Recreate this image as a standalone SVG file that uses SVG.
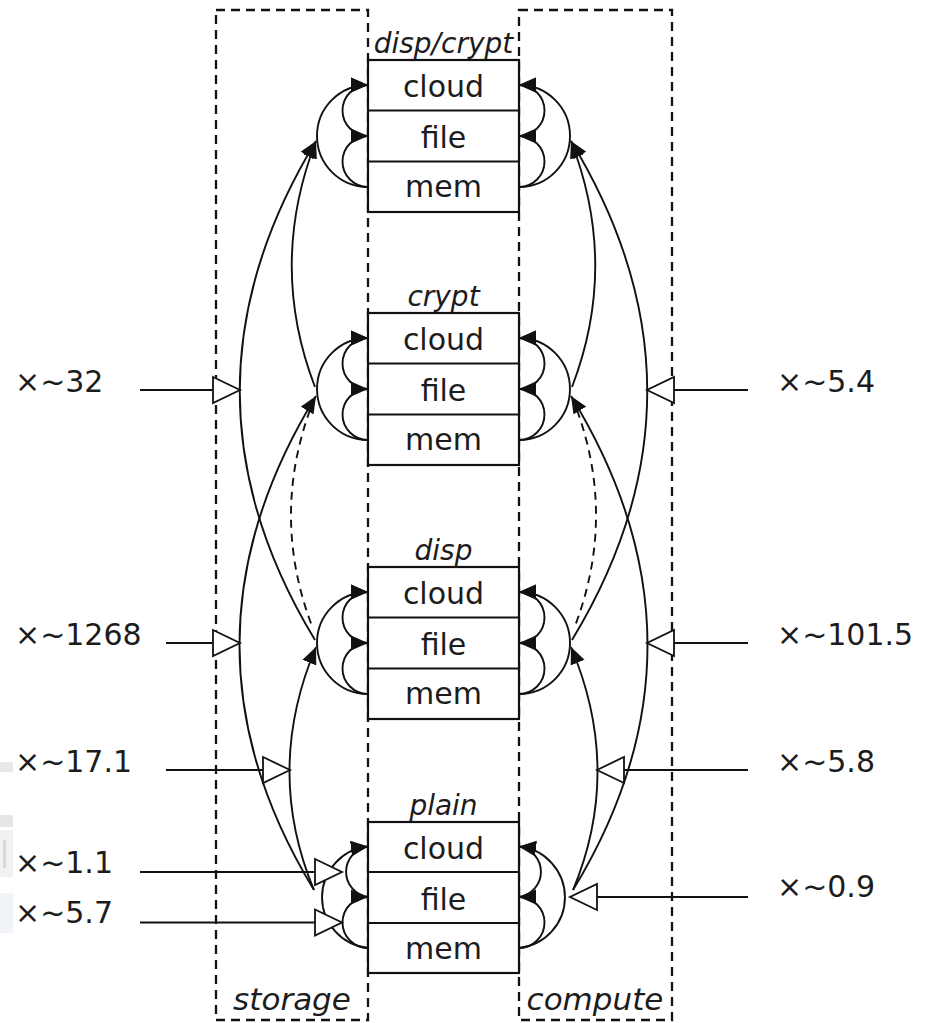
<svg xmlns="http://www.w3.org/2000/svg" width="935" height="1023" viewBox="0 0 935 1023">
  <style>
    .region { fill: none; stroke: #111; stroke-width: 2.3; stroke-dasharray: 9 6; }
    .box { fill: #fff; stroke: #111; stroke-width: 2.2; }
    .row { stroke: #111; stroke-width: 2.2; }
    .cell { font-family: "DejaVu Sans", sans-serif; font-size: 30px; fill: #1c1c1c; text-anchor: middle; }
    .tag { font-family: "DejaVu Sans", sans-serif; font-size: 28px; font-style: italic; fill: #1c1c1c; text-anchor: middle; }
    .side { font-family: "DejaVu Sans", sans-serif; font-size: 31px; font-style: italic; fill: #1c1c1c; text-anchor: middle; }
    .gain { font-family: "DejaVu Sans", sans-serif; font-size: 30px; fill: #1c1c1c; }
    .loop { fill: none; stroke: #111; stroke-width: 1.9; marker-end: url(#hd); }
    .move { fill: none; stroke: #111; stroke-width: 1.9; marker-end: url(#hd); }
    .dash { fill: none; stroke: #111; stroke-width: 1.9; stroke-dasharray: 8 6; }
    .ptr { fill: none; stroke: #111; stroke-width: 2; marker-end: url(#open); }
  </style>
  <defs>
    <marker id="hd" markerUnits="userSpaceOnUse" viewBox="0 0 18 16" markerWidth="18" markerHeight="16" refX="17" refY="8" orient="auto">
      <path d="M0,0.5 L17,8 L0,15.5 Z" fill="#111"/>
    </marker>
    <marker id="open" markerUnits="userSpaceOnUse" viewBox="0 0 32 30" markerWidth="32" markerHeight="30" refX="28" refY="14" orient="auto" overflow="visible">
      <path d="M1,1 L28,14 L1,27 Z" fill="#fff" stroke="#111" stroke-width="1.8"/>
    </marker>
  </defs>

  <rect width="935" height="1023" fill="#fff"/>

  <!-- window chrome left at the margin -->
  <g id="margin">
    <rect x="0" y="762" width="13" height="10" fill="#e8e8e8"/>
    <rect x="0" y="815" width="13" height="12" fill="#e6e6e6"/>
    <rect x="0" y="830" width="13" height="47" fill="#f1f1f1"/>
    <rect x="3" y="840" width="3" height="28" fill="#d8d8d8"/>
    <rect x="0" y="893" width="13" height="40" fill="#f0f4f9"/>
  </g>

  <!-- dashed regions -->
  <g id="region-storage">
    <rect class="region" x="216" y="10" width="152" height="1010"/>
    <text class="side" x="292" y="1010">storage</text>
  </g>
  <g id="region-compute">
    <rect class="region" x="519" y="10" width="153" height="1010"/>
    <text class="side" x="595" y="1010">compute</text>
  </g>

  <!-- state blocks -->
  <g id="node-dispcrypt">
    <rect class="box" x="368" y="60" width="151" height="152"/>
    <line class="row" x1="368" y1="110.5" x2="519" y2="110.5"/>
    <line class="row" x1="368" y1="161.5" x2="519" y2="161.5"/>
    <text class="tag" x="443.5" y="53">disp/crypt</text>
    <text class="cell" x="443.5" y="97">cloud</text>
    <text class="cell" x="443.5" y="148">file</text>
    <text class="cell" x="443.5" y="197">mem</text>
  </g>
  <g id="node-crypt">
    <rect class="box" x="368" y="313" width="151" height="152"/>
    <line class="row" x1="368" y1="363.5" x2="519" y2="363.5"/>
    <line class="row" x1="368" y1="414.5" x2="519" y2="414.5"/>
    <text class="tag" x="443.5" y="306">crypt</text>
    <text class="cell" x="443.5" y="350">cloud</text>
    <text class="cell" x="443.5" y="401">file</text>
    <text class="cell" x="443.5" y="450">mem</text>
  </g>
  <g id="node-disp">
    <rect class="box" x="368" y="567" width="151" height="152"/>
    <line class="row" x1="368" y1="617.5" x2="519" y2="617.5"/>
    <line class="row" x1="368" y1="668.5" x2="519" y2="668.5"/>
    <text class="tag" x="443.5" y="560">disp</text>
    <text class="cell" x="443.5" y="604">cloud</text>
    <text class="cell" x="443.5" y="655">file</text>
    <text class="cell" x="443.5" y="704">mem</text>
  </g>
  <g id="node-plain">
    <rect class="box" x="368" y="822" width="151" height="151"/>
    <line class="row" x1="368" y1="872" x2="519" y2="872"/>
    <line class="row" x1="368" y1="923" x2="519" y2="923"/>
    <text class="tag" x="443.5" y="815">plain</text>
    <text class="cell" x="443.5" y="859">cloud</text>
    <text class="cell" x="443.5" y="910">file</text>
    <text class="cell" x="443.5" y="959">mem</text>
  </g>

  <g id="connectors">
    <!-- tier moves inside each block, storage side (left) and compute side (right) -->
    <g id="tiers">
      <path class="loop" d="M368,187 A25.5,25.5 0 0 1 368,136"/>
      <path class="loop" d="M368,136 A25.5,25.5 0 0 1 368,85"/>
      <path class="loop" d="M368,187 A51,51 0 0 1 368,85"/>
      <path class="loop" d="M519,187 A25.5,25.5 0 0 0 519,136"/>
      <path class="loop" d="M519,136 A25.5,25.5 0 0 0 519,85"/>
      <path class="loop" d="M519,187 A51,51 0 0 0 519,85"/>

      <path class="loop" d="M368,440 A25.5,25.5 0 0 1 368,389"/>
      <path class="loop" d="M368,389 A25.5,25.5 0 0 1 368,338"/>
      <path class="loop" d="M368,440 A51,51 0 0 1 368,338"/>
      <path class="loop" d="M519,440 A25.5,25.5 0 0 0 519,389"/>
      <path class="loop" d="M519,389 A25.5,25.5 0 0 0 519,338"/>
      <path class="loop" d="M519,440 A51,51 0 0 0 519,338"/>

      <path class="loop" d="M368,694 A25.5,25.5 0 0 1 368,643"/>
      <path class="loop" d="M368,643 A25.5,25.5 0 0 1 368,592"/>
      <path class="loop" d="M368,694 A51,51 0 0 1 368,592"/>
      <path class="loop" d="M519,694 A25.5,25.5 0 0 0 519,643"/>
      <path class="loop" d="M519,643 A25.5,25.5 0 0 0 519,592"/>
      <path class="loop" d="M519,694 A51,51 0 0 0 519,592"/>

      <path class="loop" d="M368,948 A25.5,25.5 0 0 1 368,897"/>
      <path class="loop" d="M368,897 A25.5,25.5 0 0 1 368,846.5"/>
      <path class="loop" d="M368,948 A51,51 0 0 1 368,846.5"/>
      <path class="loop" d="M519,948 A25.5,25.5 0 0 0 519,897"/>
      <path class="loop" d="M519,897 A25.5,25.5 0 0 0 519,846.5"/>
      <path class="loop" d="M519,948 A51,51 0 0 0 519,846.5"/>
    </g>

    <!-- moves between blocks, storage side -->
    <g id="storage-moves">
      <path class="move" d="M315,387 Q268,265 316,141"/>
      <path class="move" d="M315,640 Q164,391 316,141"/>
      <path class="move" d="M314,890 Q164,644 316,396"/>
      <path class="move" d="M314,890 Q264,770 316,647"/>
      <path class="dash" d="M310,410 Q271,518 312,626"/>
    </g>
    <!-- moves between blocks, compute side -->
    <g id="compute-moves">
      <path class="move" d="M572,387 Q619,265 571,141"/>
      <path class="move" d="M572,640 Q723,391 571,141"/>
      <path class="move" d="M573,890 Q723,644 571,396"/>
      <path class="move" d="M573,890 Q623,770 571,647"/>
      <path class="dash" d="M577,410 Q616,518 575,626"/>
    </g>

    <!-- speed-up pointers -->
    <g id="pointers">
      <path class="ptr" d="M140,390 H240"/>
      <path class="ptr" d="M166,643 H240"/>
      <path class="ptr" d="M166,770 H290"/>
      <path class="ptr" d="M140,872 H342"/>
      <path class="ptr" d="M140,922.5 H342"/>
      <path class="ptr" d="M748,390 H647"/>
      <path class="ptr" d="M748,643 H647"/>
      <path class="ptr" d="M748,770 H597"/>
      <path class="ptr" d="M748,897 H570"/>
    </g>
  </g>

  <g id="labels">
    <text class="gain" x="15" y="392">×~32</text>
    <text class="gain" x="15" y="645">×~1268</text>
    <text class="gain" x="15" y="772">×~17.1</text>
    <text class="gain" x="15" y="873">×~1.1</text>
    <text class="gain" x="15" y="923">×~5.7</text>
    <text class="gain" x="777" y="392">×~5.4</text>
    <text class="gain" x="777" y="645">×~101.5</text>
    <text class="gain" x="777" y="772">×~5.8</text>
    <text class="gain" x="777" y="897">×~0.9</text>
  </g>
</svg>
